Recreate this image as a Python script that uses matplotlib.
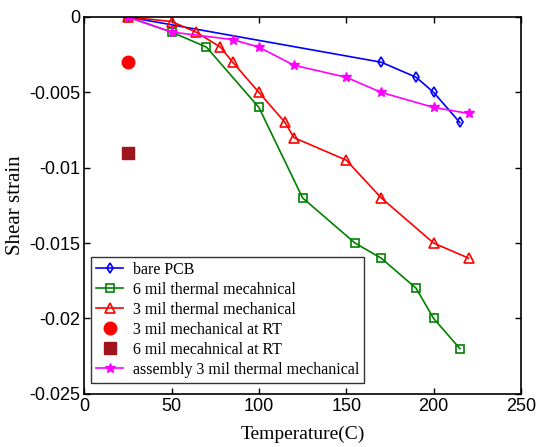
import numpy as np
import matplotlib.pyplot as plt

# temperatures (C) and shear strain for each series
bare_t = [25, 170, 190, 200, 215]
bare_s = [0, -0.003, -0.004, -0.005, -0.007]

six_t = [25, 50, 70, 100, 125, 155, 170, 190, 200, 215]
six_s = [0, -0.001, -0.002, -0.006, -0.012, -0.015, -0.016, -0.018, -0.020, -0.022]

three_t = [25, 50, 64, 78, 85, 100, 115, 120, 150, 170, 200, 220]
three_s = [0, -0.0003, -0.001, -0.002, -0.003, -0.005, -0.007, -0.008, -0.0095, -0.012, -0.015, -0.016]

rt3_t = [25]
rt3_s = [-0.003]
rt6_t = [25]
rt6_s = [-0.009]

asm_t = [25, 50, 85, 100, 120, 150, 170, 200, 220]
asm_s = [0, -0.001, -0.0015, -0.002, -0.0032, -0.004, -0.005, -0.006, -0.0064]

serif = ['Liberation Serif', 'DejaVu Serif']
sans = ['Liberation Sans', 'DejaVu Sans']

fig = plt.figure(figsize=(5.36, 4.47), dpi=100)
ax = fig.add_axes([0.157, 0.119, 0.815, 0.843])

ax.plot(bare_t, bare_s, '-d', color='#0000ff', lw=1.2, ms=5, mfc='none', mew=1.2, label='bare PCB')
ax.plot(six_t, six_s, '-s', color='#008000', lw=1.2, ms=6, mfc='none', mew=1.2, label='6 mil thermal mecahnical')
ax.plot(three_t, three_s, '-^', color='#ff0000', lw=1.2, ms=7, mfc='none', mew=1.2, label='3 mil thermal mechanical')
ax.plot(rt3_t, rt3_s, 'o', color='#ff0000', ms=9, ls='none', label='3 mil mechanical at RT')
ax.plot(rt6_t, rt6_s, 's', color='#a0141c', ms=8, ls='none', label='6 mil mecahnical at RT')
ax.plot(asm_t, asm_s, '-*', color='#ff00ff', lw=1.2, ms=7, label='assembly 3 mil thermal mechanical')

ax.set_xlim(0, 250)
ax.set_ylim(-0.025, 0)
ax.set_xticks([0, 50, 100, 150, 200, 250])
ax.set_yticks([-0.025, -0.02, -0.015, -0.01, -0.005, 0])
ax.set_yticklabels(['-0.025', '-0.02', '-0.015', '-0.01', '-0.005', '0'])
ax.tick_params(direction='in', top=True, right=True, length=4, width=1, labelsize=13)
ax.tick_params(axis='x', pad=3)
ax.tick_params(axis='y', pad=3)
for lab in ax.get_xticklabels() + ax.get_yticklabels():
    lab.set_family(sans)
for sp in ax.spines.values():
    sp.set_linewidth(1.2)

ax.set_xlabel('Temperature(C)', family=serif, fontsize=14, va='top')
ax.xaxis.set_label_coords(0.5, -0.085)
ax.set_ylabel('Shear strain', family=serif, fontsize=15, va='center')
ax.yaxis.set_label_coords(-0.158, 0.5)

leg = ax.legend(loc='lower left', bbox_to_anchor=(0.016, 0.03), prop={'family': serif, 'size': 11.5},
                frameon=True, fancybox=False, edgecolor='black', borderpad=0.3,
                labelspacing=0.25, handlelength=1.7, handletextpad=0.6, borderaxespad=0)
leg.get_frame().set_linewidth(1.0)

fig.savefig('out.png', dpi=100)
